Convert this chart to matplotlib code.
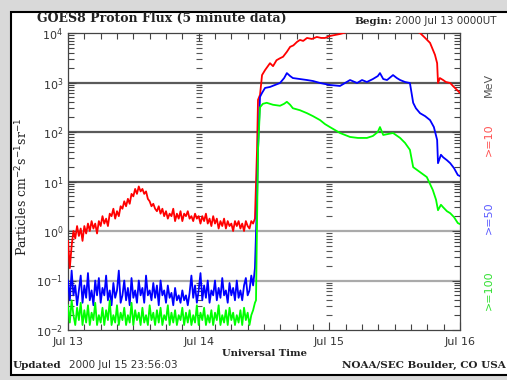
import numpy as np
import matplotlib.pyplot as plt
from matplotlib.patches import Rectangle
from matplotlib.ticker import FixedLocator, NullFormatter, LogLocator

# ---- data (log10 of flux) ----
# quiet period before the flare, 20 minute steps from Jul 13 00:00
pre_hours = np.arange(104) / 3.0

red_pre = [-0.2, -0.75, -0.3, 0.0, -0.15, 0.1, -0.1, 0.05, -0.2, 0.1, -0.05, 0.15,
           0.0, 0.2, 0.05, 0.15, -0.05, 0.2, 0.1, 0.3, 0.15, 0.25, 0.1, 0.35,
           0.3, 0.45, 0.25, 0.4, 0.3, 0.5, 0.45, 0.6, 0.5, 0.65, 0.55, 0.75,
           0.7, 0.85, 0.75, 0.9, 0.8, 0.85, 0.75, 0.8, 0.65, 0.6, 0.5, 0.55,
           0.45, 0.4, 0.5, 0.35, 0.45, 0.3, 0.4, 0.25, 0.35, 0.3, 0.45, 0.2,
           0.35, 0.25, 0.4, 0.2, 0.35, 0.3, 0.4, 0.25, 0.3, 0.2, 0.35, 0.25,
           0.3, 0.15, 0.3, 0.2, 0.35, 0.15, 0.25, 0.1, 0.3, 0.15, 0.25, 0.05,
           0.2, 0.1, 0.25, 0.05, 0.2, 0.1, 0.15, 0.0, 0.2, 0.1, 0.2, 0.05,
           0.15, 0.0, 0.2, 0.1, 0.05, 0.2, 0.15, 0.25]

blue_pre = [-1.0, -1.4, -0.8, -1.3, -1.1, -1.5, -1.2, -0.9, -1.45, -1.1, -1.35, -0.85,
            -1.4, -1.2, -1.5, -1.0, -1.3, -0.95, -1.45, -1.15, -1.3, -0.9, -1.4, -1.2,
            -1.5, -1.05, -1.35, -1.2, -0.8, -1.45, -1.3, -1.0, -1.4, -1.15, -1.5, -0.95,
            -1.35, -1.2, -1.45, -1.0, -1.3, -1.15, -1.45, -0.9, -1.3, -1.2, -1.4, -1.05,
            -1.35, -1.1, -1.5, -1.0, -1.3, -1.2, -1.45, -1.1, -1.35, -1.25, -1.5, -1.15,
            -1.4, -1.3, -1.45, -1.2, -1.4, -1.3, -1.5, -1.25, -0.9, -1.35, -1.1, -1.45,
            -1.2, -0.85, -1.4, -1.1, -1.35, -1.0, -1.45, -1.2, -1.3, -1.0, -1.4, -1.15,
            -1.35, -0.95, -1.3, -1.2, -1.45, -1.05, -1.3, -1.15, -1.4, -1.0, -1.35, -1.2,
            -1.4, -1.1, -0.95, -1.3, -1.2, -0.9, -1.1, -0.75]

green_pre = [-1.5, -1.85, -1.4, -1.7, -1.9, -1.55, -1.8, -1.45, -1.9, -1.6, -1.85, -1.5,
             -1.9, -1.65, -1.8, -1.45, -1.9, -1.7, -1.85, -1.55, -1.9, -1.6, -1.8, -1.4,
             -1.9, -1.7, -1.85, -1.5, -1.9, -1.65, -1.8, -1.55, -1.9, -1.7, -1.85, -1.45,
             -1.9, -1.6, -1.8, -1.65, -1.9, -1.55, -1.85, -1.7, -1.9, -1.5, -1.8, -1.65,
             -1.9, -1.6, -1.85, -1.55, -1.9, -1.7, -1.8, -1.5, -1.9, -1.65, -1.85, -1.6,
             -1.9, -1.7, -1.8, -1.55, -1.9, -1.65, -1.85, -1.6, -1.9, -1.7, -1.85, -1.5,
             -1.9, -1.65, -1.8, -1.55, -1.9, -1.7, -1.85, -1.6, -1.9, -1.65, -1.8, -1.5,
             -1.9, -1.7, -1.85, -1.6, -1.9, -1.55, -1.8, -1.65, -1.9, -1.7, -1.85, -1.6,
             -1.9, -1.55, -1.8, -1.65, -1.9, -1.7, -1.6, -1.45]

# flare on Jul 14 ~10:30 UT and after
red_post_h = [34.72, 34.9, 35.27, 35.64, 36.19, 37.1, 37.66, 38.3, 38.94, 39.5, 40.2, 40.8,
              41.4, 42.06, 42.6, 43.2, 43.9, 44.8, 45.7, 46.5, 47.2, 48.1, 49.0, 49.96,
              51.25, 54.0, 57.0, 60.0, 63.0, 64.66, 65.6, 66.5, 67.4, 67.8, 67.96, 68.3,
              68.9, 69.4, 70.2, 70.7, 71.45, 72.0]
red_post = [1.64, 2.65, 2.75, 3.15, 3.25, 3.39, 3.33, 3.45, 3.49, 3.52, 3.62, 3.72,
            3.75, 3.82, 3.86, 3.84, 3.9, 3.88, 3.92, 3.9, 3.9, 3.94, 3.96, 3.98,
            4.02, 4.1, 4.2, 4.2, 4.1, 4.0, 3.9, 3.8, 3.56, 3.39, 2.99, 3.09,
            3.05, 3.01, 2.99, 2.93, 2.85, 2.79]

blue_post_h = [34.72, 34.9, 35.27, 35.64, 36.19, 37.1, 38.0, 38.94, 39.7, 40.2, 40.8, 41.3,
               42.6, 43.9, 45.0, 46.3, 48.1, 49.96, 50.9, 51.8, 53.1, 54.0, 54.9, 56.0,
               56.9, 57.3, 57.9, 58.6, 59.7, 60.4, 61.0, 61.9, 62.8, 63.4, 63.9, 64.66,
               65.6, 66.5, 67.2, 67.8, 67.96, 68.5, 68.9, 69.6, 70.2, 70.9, 71.6, 72.0]
blue_post = [0.63, 1.64, 2.71, 2.79, 2.89, 2.91, 2.95, 2.99, 3.09, 3.19, 3.13, 3.09,
             3.07, 3.05, 3.03, 2.99, 2.95, 2.93, 2.99, 3.05, 2.99, 3.05, 3.01, 3.07,
             3.13, 3.19, 3.07, 3.05, 3.15, 3.09, 3.05, 3.01, 2.99, 2.59, 2.48, 2.38,
             2.32, 2.24, 2.1, 1.84, 1.37, 1.54, 1.49, 1.43, 1.37, 1.27, 1.13, 1.11]

green_post_h = [34.53, 34.72, 34.9, 35.27, 35.8, 36.5, 37.66, 38.94, 39.7, 40.2, 40.8, 41.3,
                42.6, 43.9, 45.0, 46.3, 47.2, 48.1, 49.96, 51.8, 53.25, 54.9, 56.0, 56.9,
                57.3, 57.9, 58.8, 59.7, 61.0, 61.9, 62.8, 63.4, 64.66, 65.9, 67.0, 67.6,
                67.96, 68.5, 68.9, 69.6, 70.2, 70.9, 71.6, 72.0]
green_post = [-1.4, 0.22, 1.64, 2.5, 2.57, 2.59, 2.55, 2.53, 2.57, 2.61, 2.55, 2.48,
              2.44, 2.38, 2.32, 2.24, 2.16, 2.1, 1.98, 1.9, 1.88, 1.88, 1.92, 2.0,
              2.1, 1.94, 1.96, 1.98, 1.88, 1.78, 1.64, 1.29, 1.19, 1.09, 0.83, 0.63,
              0.42, 0.53, 0.48, 0.4, 0.36, 0.28, 0.16, 0.14]

day_labels = ["Jul 13", "Jul 14", "Jul 15", "Jul 16"]

# ---- figure ----
fig = plt.figure(figsize=(5.07, 3.80), dpi=100, facecolor="#d9d9d9")
fig.patches.append(Rectangle((11 / 507, 5 / 380), 1.0, 363 / 380, transform=fig.transFigure,
                             facecolor="white", edgecolor="black", linewidth=1.5, zorder=-5))

ax = fig.add_axes([68 / 507, 50 / 380, 392 / 507, 297 / 380], zorder=2)
ax.set_yscale("log")
ax.set_xlim(0, 72)
ax.set_ylim(1e-2, 1e4)

# grid lines at the decades
for v, c in [(1e3, "#5a5a5a"), (1e2, "#5a5a5a"), (1e1, "#5a5a5a"), (1e0, "#aaaaaa"), (1e-1, "#aaaaaa")]:
    ax.axhline(v, color=c, linewidth=1.6, zorder=1)

# y ticks repeated at each day boundary
minors = [m * 10.0 ** d for d in range(-2, 4) for m in range(2, 10)]
for day in [24, 48]:
    ax.plot([day] * len(minors), minors, linestyle="none", marker="_", markersize=5,
            color="#555555", markeredgewidth=0.8, zorder=1)

t_red = np.concatenate([pre_hours, red_post_h])
t_blue = np.concatenate([pre_hours, blue_post_h])
t_green = np.concatenate([pre_hours, green_post_h])
ax.plot(t_red, 10 ** np.concatenate([red_pre, red_post]), color="#ff0000", linewidth=1.3, zorder=3)
ax.plot(t_blue, 10 ** np.concatenate([blue_pre, blue_post]), color="#0000ff", linewidth=1.3, zorder=3)
ax.plot(t_green, 10 ** np.concatenate([green_pre, green_post]), color="#00ff00", linewidth=1.3, zorder=4)

ax.xaxis.set_major_locator(FixedLocator([0, 24, 48, 72]))
ax.xaxis.set_minor_locator(FixedLocator(np.arange(0, 73, 3)))
ax.set_xticklabels(day_labels)
ax.yaxis.set_major_locator(LogLocator(base=10, numticks=10))
ax.yaxis.set_minor_locator(LogLocator(base=10, subs=np.arange(2, 10), numticks=20))
ax.yaxis.set_minor_formatter(NullFormatter())
ax.tick_params(which="both", direction="in", top=True, right=True, labelsize=8,
               labelcolor="#333333", color="#444444", width=0.8)
ax.tick_params(which="major", length=6)
ax.tick_params(which="minor", length=4)
ax.tick_params(axis="x", pad=5)
for s in ax.spines.values():
    s.set_linewidth(0.9)
    s.set_color("#444444")

# texts
fig.text(37 / 507, 1 - 18 / 380, "GOES8 Proton Flux (5 minute data)", family="DejaVu Serif",
         weight="bold", size=9, va="center", ha="left", color="#222222")
fig.text(392 / 507, 1 - 21 / 380, "Begin:", family="DejaVu Serif", weight="bold", size=7.5,
         va="center", ha="right", color="#222222")
fig.text(395 / 507, 1 - 21 / 380, "2000 Jul 13 0000UT", size=7.5, va="center", ha="left",
         color="#333333")
fig.text(265 / 507, 1 - 353 / 380, "Universal Time", family="DejaVu Serif", weight="bold",
         size=7.2, va="center", ha="center", color="#222222")
fig.text(13 / 507, 1 - 365 / 380, "Updated", family="DejaVu Serif", weight="bold", size=7.5,
         va="center", ha="left", color="#222222")
fig.text(69 / 507, 1 - 365 / 380, "2000 Jul 15 23:56:03", size=7.5, va="center", ha="left",
         color="#333333")
fig.text(506 / 507, 1 - 365 / 380, "NOAA/SEC Boulder, CO USA", family="DejaVu Serif",
         weight="bold", size=7.5, va="center", ha="right", color="#222222")
fig.text(22 / 507, 1 - 187 / 380, r"Particles cm$^{-2}$s$^{-1}$sr$^{-1}$", family="DejaVu Serif",
         size=9, rotation=90, va="center", ha="center", color="#222222")

fig.text(489 / 507, 1 - 85 / 380, "MeV", size=8, rotation=90, va="center", ha="center", color="#555555")
fig.text(489 / 507, 1 - 140 / 380, ">=10", size=8, rotation=90, va="center", ha="center", color="#ff5050")
fig.text(489 / 507, 1 - 218 / 380, ">=50", size=8, rotation=90, va="center", ha="center", color="#5a5aff")
fig.text(489 / 507, 1 - 290 / 380, ">=100", size=8, rotation=90, va="center", ha="center", color="#30e030")

fig.savefig("out.png", dpi=100, facecolor=fig.get_facecolor())
